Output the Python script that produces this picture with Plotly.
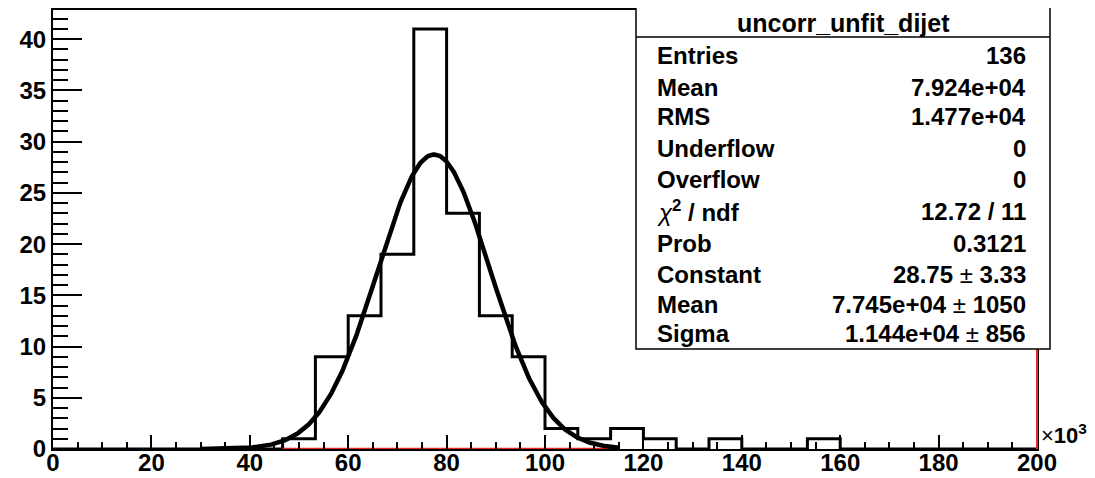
import numpy as np
import plotly.graph_objects as go

# ---------------- data ----------------
x_min_k = 0.0          # axis in units of 10^3
x_max_k = 200.0
n_bins = 30
bin_counts = [0, 0, 0, 0, 0, 0, 0, 1, 9, 13, 19, 41, 23, 13, 9,
              2, 1, 2, 1, 0, 1, 0, 0, 1, 0, 0, 0, 0, 0, 0]

# Gaussian fit shown in the stats box
fit_constant = 28.75
fit_mean_k = 77.45
fit_sigma_k = 11.44
fit_range_k = [30.0, 115.0]

# red zero-level line seen along the axis
red_line_range_k = [46.67, 113.33]

x_tick_vals = [0, 20, 40, 60, 80, 100, 120, 140, 160, 180, 200]
y_tick_vals = [0, 5, 10, 15, 20, 25, 30, 35, 40]
y_max = 42.85

stats_title = "uncorr_unfit_dijet"
stats_labels = ["Entries", "Mean", "RMS", "Underflow", "Overflow",
                "<i>χ</i><b><sup>2</sup> / ndf</b>", "Prob", "Constant", "Mean", "Sigma"]
stats_values = ["<b>136</b>", "<b>7.924e+04</b>", "<b>1.477e+04</b>", "<b>0</b>", "<b>0</b>",
                "<b>12.72 / 11</b>", "<b>0.3121</b>", "<b>28.75</b> ± <b>3.33</b>",
                "<b>7.745e+04</b> ± <b>1050</b>", "<b>1.144e+04</b> ± <b>856</b>"]

# ---------------- figure ----------------
FONT = "Liberation Sans, Arial, Helvetica, sans-serif"
OFF = 8                      # page body margin in the browser
WIN_W, WIN_H = 1095, 478
W, H = WIN_W - OFF, WIN_H - OFF
PLOT_X0, PLOT_X1 = 53, 1037  # plot area in window pixels
PLOT_Y0, PLOT_Y1 = 10, 449
L = PLOT_X0 - OFF
T = PLOT_Y0 - OFF
R = W - (PLOT_X1 - OFF)
B = H - (PLOT_Y1 - OFF)
PW, PH = PLOT_X1 - PLOT_X0, PLOT_Y1 - PLOT_Y0


def px(x):
    return (x - PLOT_X0) / PW


def py(y):
    return (PLOT_Y1 - y) / PH


edges = np.linspace(x_min_k, x_max_k, n_bins + 1)
step_x = list(edges)
step_y = list(bin_counts) + [bin_counts[-1]]

fig = go.Figure()

# histogram outline
fig.add_trace(go.Scatter(
    x=step_x, y=step_y, mode="lines", line=dict(color="black", width=3, shape="hv"),
    hoverinfo="skip", showlegend=False))

# red zero line
fig.add_trace(go.Scatter(
    x=red_line_range_k, y=[0, 0], mode="lines", line=dict(color="#e8281c", width=2.5),
    hoverinfo="skip", showlegend=False))

# gaussian fit curve
xf = np.linspace(fit_range_k[0], fit_range_k[1], 400)
yf = fit_constant * np.exp(-0.5 * ((xf - fit_mean_k) / fit_sigma_k) ** 2)
fig.add_trace(go.Scatter(
    x=xf, y=yf, mode="lines", line=dict(color="black", width=4.5),
    hoverinfo="skip", showlegend=False))

shapes = [
    # red vertical line at right edge
    dict(type="line", xref="paper", yref="paper", x0=1, x1=1, y0=0, y1=1,
         line=dict(color="#e8281c", width=2), layer="above"),
    # stats box
    dict(type="rect", xref="paper", yref="paper",
         x0=px(636), x1=px(1050), y0=py(349), y1=py(6),
         fillcolor="white", line=dict(color="black", width=1.5), layer="above"),
    dict(type="line", xref="paper", yref="paper",
         x0=px(636), x1=px(1050), y0=py(37), y1=py(37),
         line=dict(color="black", width=1.5), layer="above"),
]

SF = 24
annotations = [
    dict(text=f"<b>{stats_title}</b>", xref="paper", yref="paper",
         x=px(843), y=py(23), xanchor="center", yanchor="middle", showarrow=False,
         borderpad=0, font=dict(family=FONT, size=25, color="black")),
    dict(text="×<b>10<sup>3</sup></b>", xref="paper", yref="paper",
         x=px(1040), y=py(434), xanchor="left", yanchor="middle", showarrow=False,
         borderpad=0, font=dict(family=FONT, size=22, color="black")),
]
row_y = [55, 87, 117, 148, 180, 211, 243, 274, 304, 333]
for lab, val, yy in zip(stats_labels, stats_values, row_y):
    lab_txt = lab if "χ" in lab else f"<b>{lab}</b>"
    annotations.append(dict(text=lab_txt, xref="paper", yref="paper",
                            x=px(655), y=py(yy), xanchor="left", yanchor="middle",
                            showarrow=False,
                            font=dict(family=FONT, size=SF, color="black")))
    annotations.append(dict(text=val, xref="paper", yref="paper",
                            x=px(1028), y=py(yy), xanchor="right", yanchor="middle",
                            showarrow=False,
                            font=dict(family=FONT, size=SF, color="black")))

fig.update_layout(
    width=W, height=H,
    margin=dict(l=L, r=R, t=T, b=B, pad=0, autoexpand=False),
    paper_bgcolor="white", plot_bgcolor="white",
    shapes=shapes, annotations=annotations,
    showlegend=False,
)

fig.update_xaxes(
    range=[x_min_k, x_max_k], tickvals=x_tick_vals, automargin=False,
    ticks="inside", ticklen=14, tickwidth=1.5, tickcolor="black",
    ticklabelstandoff=-9,
    minor=dict(ticks="inside", ticklen=7, dtick=5, tickwidth=1.5, tickcolor="black", showgrid=False),
    showline=True, linecolor="black", linewidth=2, mirror=True,
    showgrid=False, zeroline=False,
    tickfont=dict(family=FONT, size=24, color="black", weight="bold"),
)
fig.update_yaxes(
    range=[0, y_max], tickvals=y_tick_vals, automargin=False,
    ticks="inside", ticklen=29, tickwidth=1.5, tickcolor="black",
    minor=dict(ticks="inside", ticklen=15, dtick=1, tickwidth=1.5, tickcolor="black", showgrid=False),
    showline=True, linecolor="black", linewidth=2, mirror=True,
    showgrid=False, zeroline=False,
    tickfont=dict(family=FONT, size=24, color="black", weight="bold"),
)

fig.write_html("out.html")
